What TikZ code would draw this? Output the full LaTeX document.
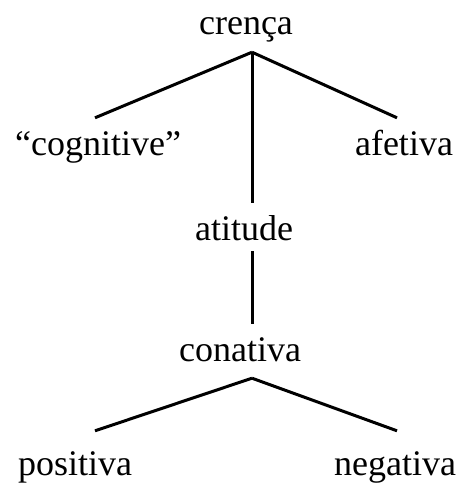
\documentclass[tikz,border=0pt]{standalone}
\usepackage{fontspec}
\setmainfont{Liberation Serif}
\usepackage{tikz}
\usetikzlibrary{positioning}

\begin{document}
\begin{tikzpicture}[
    x=1pt, y=-1pt,
    term/.style={anchor=base, inner xsep=0pt, inner ysep=10pt, text height=27pt, text depth=7pt, font=\fontsize{36}{40}\selectfont},
    branch/.style={line width=3pt}
]
    \useasboundingbox (0,0) rectangle (464,487);

    % === top level ===
    \node[term] (crenca) at (246,35) {crença};
    \node[term] (cognitive) at (98,155) {``cognitive''};
    \node[term] (afetiva) at (404,155) {afetiva};
    \node[term] (atitude) at (244,240) {atitude};

    \draw[branch] ([xshift=6pt]crenca.south) -- ([xshift=-3pt]cognitive.north);
    \draw[branch] ([xshift=6pt]crenca.south) -- ([xshift=-7pt]afetiva.north);
    \draw[branch] ([xshift=6pt]crenca.south) -- ([xshift=8pt]atitude.north);

    % === lower level ===
    \node[term] (conativa) at (240,361) {conativa};
    \node[term] (positiva) at (75,475) {positiva};
    \node[term] (negativa) at (395,475) {negativa};

    \draw[branch] ([xshift=8pt,yshift=6pt]atitude.south) -- ([xshift=12pt]conativa.north);
    \draw[branch] ([xshift=12pt]conativa.south) -- ([xshift=20pt,yshift=7pt]positiva.north);
    \draw[branch] ([xshift=12pt]conativa.south) -- ([xshift=2pt,yshift=7pt]negativa.north);
\end{tikzpicture}
\end{document}
